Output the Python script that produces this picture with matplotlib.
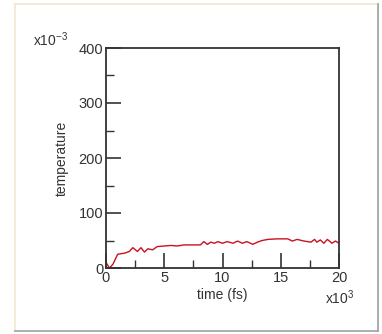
import matplotlib
matplotlib.use('Agg')
import matplotlib.pyplot as plt
from matplotlib.lines import Line2D
from matplotlib.ticker import MultipleLocator

# time in units of 1e3 fs, temperature in units of 1e-3
time = [0.0, 0.3, 0.6, 1.0, 1.6, 2.0, 2.3, 2.7, 3.0, 3.3, 3.6, 4.0, 4.4, 5.0,
        5.6, 6.1, 6.7, 7.3, 8.1, 8.4, 8.7, 9.0, 9.3, 9.6, 10.0, 10.4, 10.9,
        11.3, 11.7, 12.1, 12.6, 13.0, 13.4, 13.9, 14.7, 15.6, 16.0, 16.4,
        17.0, 17.6, 17.9, 18.1, 18.4, 18.7, 19.0, 19.4, 19.7, 20.0]
temperature = [10, 0, 7, 25, 27, 30, 37, 30, 37, 29, 35, 33, 39, 40,
               41, 40, 42, 42, 42, 48, 43, 47, 45, 48, 45, 48, 45,
               49, 45, 48, 43, 47, 50, 52, 53, 53, 49, 52,
               49, 47, 52, 47, 51, 45, 52, 45, 49, 45]

xticks = [0, 5, 10, 15, 20]
yticks = [0, 100, 200, 300, 400]

fig = plt.figure(figsize=(3.82, 3.34), dpi=100)
plt.rcParams['font.family'] = ['Liberation Sans', 'DejaVu Sans']

W, H = 382, 334
ax = fig.add_axes([106 / W, 1 - 268 / H, 233 / W, 220 / H])

ax.plot(time, temperature, color='#cc1020', linewidth=1.0)
ax.set_xlim(0, 20)
ax.set_ylim(0, 400)
ax.set_xticks(xticks)
ax.set_yticks(yticks)
ax.xaxis.set_minor_locator(MultipleLocator(2.5))
ax.yaxis.set_minor_locator(MultipleLocator(50))

dark = '#333333'
for s in ax.spines.values():
    s.set_color(dark)
    s.set_linewidth(1.3)
ax.tick_params(which='major', direction='in', length=11, width=1.2,
               color=dark, labelcolor=dark, labelsize=10.5, pad=2)
ax.tick_params(which='minor', direction='in', length=6, width=1.0, color=dark)

ax.set_xlabel('time (fs)', fontsize=10, color=dark, labelpad=2)
ax.set_ylabel('temperature', fontsize=10, color=dark, labelpad=7)

fig.text(33 / W, 1 - 46 / H, r'x10$^{\mathregular{-3}}$', fontsize=10,
         color=dark, va='baseline')
fig.text(325 / W, 1 - 304 / H, r'x10$^{\mathregular{3}}$', fontsize=10,
         color=dark, va='baseline')

# outer frame of the picture
fig.add_artist(Line2D([15 / W, 15 / W], [1 - 4 / H, 1 - 331 / H],
                      color='#f3ead8', linewidth=1.5))
fig.add_artist(Line2D([15 / W, 378 / W], [1 - 4 / H, 1 - 4 / H],
                      color='#f3ead8', linewidth=1.5))
fig.add_artist(Line2D([378 / W, 378 / W], [1 - 4 / H, 1 - 331 / H],
                      color='#a0a0a0', linewidth=1.2))
fig.add_artist(Line2D([15 / W, 378 / W], [1 - 331 / H, 1 - 331 / H],
                      color='#a0a0a0', linewidth=1.2))

fig.savefig('out.png', dpi=100)
